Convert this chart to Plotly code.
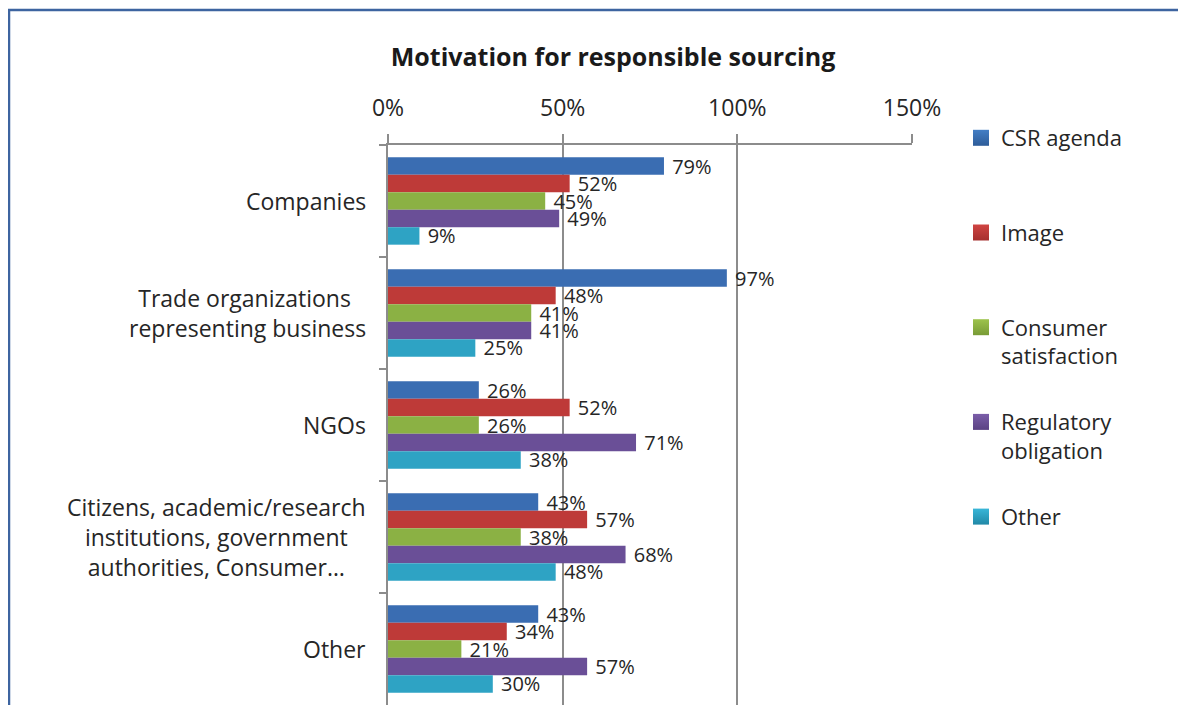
import plotly.graph_objects as go

# ---- data ----
categories = ["Companies",
              "Trade organizations representing business",
              "NGOs",
              "Citizens, academic/research institutions, government authorities, Consumer…",
              "Other"]
category_labels = ["Companies",
                   "Trade organizations <br>representing business",
                   "NGOs",
                   "Citizens, academic/research<br>institutions, government<br>authorities, Consumer…",
                   "Other"]
series_names = ["CSR agenda", "Image", "Consumer satisfaction", "Regulatory obligation", "Other"]
legend_labels = ["CSR agenda<br> ", "Image<br> ", "Consumer<br>satisfaction", "Regulatory<br>obligation", "Other<br> "]
csr_agenda = [0.79, 0.97, 0.26, 0.43, 0.43]
image = [0.52, 0.48, 0.52, 0.57, 0.34]
consumer_satisfaction = [0.45, 0.41, 0.26, 0.38, 0.21]
regulatory_obligation = [0.49, 0.41, 0.71, 0.68, 0.57]
other = [0.09, 0.25, 0.38, 0.48, 0.30]
series_values = [csr_agenda, image, consumer_satisfaction, regulatory_obligation, other]
x_ticks = [0, 0.5, 1.0, 1.5]
x_tick_labels = ["0%", "50%", "100%", "150%"]

# ---- styles ----
colors_mid = ["#3A6DB2", "#BE3A38", "#8BB144", "#6A4F97", "#2EA3C4"]
colors_top = ["#437EC5", "#D04442", "#9DC34C", "#7B5EA9", "#38B6D8"]
colors_bot = ["#2E5C99", "#A52F2E", "#789B36", "#5B4283", "#2188A6"]
FONT = "Open Sans"
TXT = "#262626"
GRID = "#8C8C8C"

# the page places the figure 8px in from the top-left corner
OFF = 8
W, H = 1186, 705
PLOT_L, PLOT_R, PLOT_T, PLOT_B = 388 - OFF, 912 - OFF, 145 - OFF, 705 - OFF

fig = go.Figure()
for name, vals, c in zip(series_names, series_values, colors_mid):
    fig.add_trace(go.Bar(
        y=categories, x=vals, orientation="h", name=name,
        marker=dict(color=c, line=dict(width=0)),
        texttemplate="\u00a0%{x:.0%}", textposition="outside",
        textfont=dict(family=FONT, size=20, color=TXT),
        constraintext="none", cliponaxis=False, showlegend=False,
    ))

for i, (lab, ct, cb) in enumerate(zip(legend_labels, colors_top, colors_bot)):
    fig.add_trace(go.Scatter(
        x=[None], y=[None], mode="markers", name=lab, legendgroup=str(i),
        marker=dict(symbol="square", size=16, color=ct,
                    gradient=dict(type="vertical", color=cb)),
        showlegend=True,
    ))

annotations = []
for cat, lab in zip(categories, category_labels):
    annotations.append(dict(
        xref="paper", yref="y", x=0, y=cat, text=lab, showarrow=False,
        xanchor="right", yanchor="middle", align="center", xshift=-20,
        font=dict(family=FONT, size=23, color=TXT),
    ))

pw = PLOT_R - PLOT_L
ph = PLOT_B - PLOT_T
fig.update_layout(
    width=W, height=H,
    margin=dict(l=PLOT_L, r=W - PLOT_R, t=PLOT_T, b=H - PLOT_B, pad=0, autoexpand=False),
    paper_bgcolor="white", plot_bgcolor="white",
    barmode="group", bargap=0.22, bargroupgap=0,
    title=dict(text="<b>Motivation for responsible sourcing</b>",
               x=(613 - OFF) / W, xref="container", y=1 - (57 - OFF) / H, yref="container",
               xanchor="center", yanchor="middle",
               font=dict(family=FONT, size=25, color="#1A1A1A")),
    xaxis=dict(side="top", range=[0, 1.5], tickvals=x_ticks, ticktext=x_tick_labels,
               showgrid=True, gridcolor=GRID, gridwidth=2, zeroline=False,
               showline=True, linecolor=GRID, linewidth=2,
               ticks="outside", ticklen=9, tickwidth=2, tickcolor=GRID,
               ticklabelstandoff=9,
               tickfont=dict(family=FONT, size=23, color=TXT)),
    yaxis=dict(autorange="reversed", showticklabels=False, showgrid=False,
               showline=True, linecolor=GRID, linewidth=2, zeroline=False,
               ticks="outside", ticklen=7, tickwidth=2, tickcolor=GRID,
               tickson="boundaries"),
    legend=dict(xref="container", yref="container",
                x=(961 - OFF) / W, xanchor="left", y=1 - (117 - OFF) / H, yanchor="top",
                maxheight=700,
                valign="top", tracegroupgap=34.5, bgcolor="rgba(0,0,0,0)",
                font=dict(family=FONT, size=22, color=TXT)),
    annotations=annotations,
    shapes=[dict(type="rect", xref="paper", yref="paper",
                 x0=(9 - 388) / pw, x1=(1220 - 388) / pw,
                 y0=(705 - 740) / ph, y1=(705 - 10) / ph,
                 line=dict(color="#3D64A0", width=2.5), fillcolor="rgba(0,0,0,0)",
                 layer="below")],
)

fig.write_html("out.html")
